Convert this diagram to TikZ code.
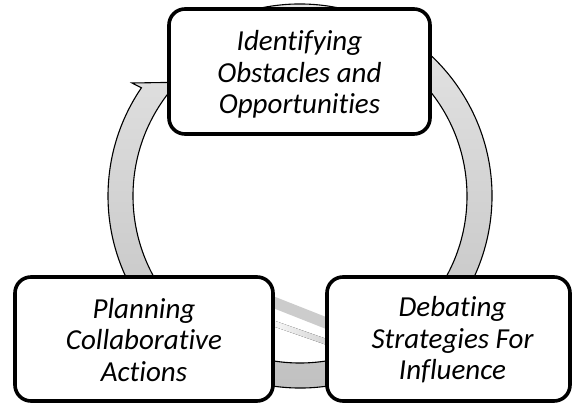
\documentclass[tikz,border=0pt]{standalone}
\usepackage{fontspec}
\setmainfont[Ligatures={NoCommon,NoRequired,NoContextual}]{Carlito}
\usetikzlibrary{calc}
\definecolor{ringtop}{HTML}{E8E8E8}
\definecolor{ringmid}{HTML}{DCDCDC}
\definecolor{ringbot}{HTML}{BEBEBE}
\definecolor{streak}{HTML}{CCCCCC}
\tikzset{
  stagebox/.style={draw=black, line width=3.6pt, rounded corners=16pt, fill=white,
    inner sep=0pt},
  stagetext/.style={align=center, font=\itshape\fontsize{29}{31.5}\selectfont},
  ringline/.style={draw=black, line width=1.1pt, top color=ringtop,
    middle color=ringmid, bottom color=ringbot},
}
\begin{document}
\begin{tikzpicture}[x=1pt, y=1pt]
  \useasboundingbox (0,0) rectangle (573,405);
  \coordinate (C) at (300,209);

  % cycle arrow running clockwise round the three stages
  \path[ringline]
    ($(C)+(120:192)$) arc[start angle=120, end angle=-214.3, radius=192]
    -- (132,322) -- (195,323) -- ($(C)+(-221:167)$)
    arc[start angle=-221, end angle=120, radius=167] -- cycle;

  % pale streaks between the lower stages
  \fill[streak] (260,114.1) -- (340,82.5) -- (340,70.5) -- (260,102.1) -- cycle;
  \fill[left color=white, right color=streak] (260,89.3) -- (340,61.4) -- (340,55.4) -- (260,83.3) -- cycle;

  % the three stages
  \node[stagebox, minimum width=261pt, minimum height=125pt] (obst) at (299.5,333.5) {};
  \node[stagebox, minimum width=258pt, minimum height=124pt] (plan) at (144,66) {};
  \node[stagebox, minimum width=243pt, minimum height=124pt] (debate) at (448.5,66) {};

  \node[stagetext] at ([yshift=-3pt]obst.center) {Identifying\\Obstacles and\\Opportunities};
  \node[stagetext] at ([yshift=-1pt]plan.center) {Planning\\Collaborative\\Actions};
  \node[stagetext] at ([xshift=4pt, yshift=-1pt]debate.center) {Debating\\Strategies For\\Influence};
\end{tikzpicture}
\end{document}
